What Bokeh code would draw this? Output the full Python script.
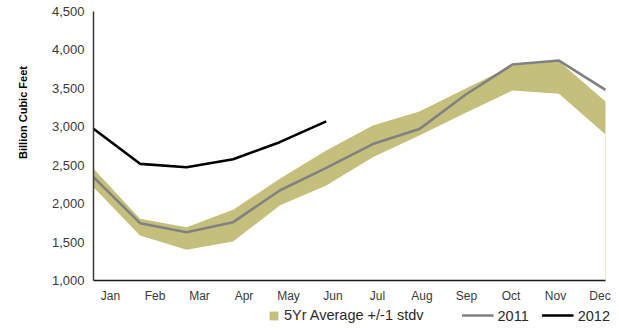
import math
from bokeh.plotting import figure
from bokeh.layouts import column, row
from bokeh.models import (Range1d, LinearAxis, FixedTicker, NumeralTickFormatter,
                          Legend, LegendItem, Label)
from bokeh.embed import file_html
from bokeh.resources import INLINE

months = ["Jan", "Feb", "Mar", "Apr", "May", "Jun", "Jul", "Aug", "Sep", "Oct", "Nov", "Dec"]
avg_low = [2214, 1585, 1399, 1507, 1976, 2236, 2604, 2886, 3182, 3472, 3429, 2899]
avg_high = [2453, 1803, 1694, 1920, 2323, 2691, 3017, 3199, 3498, 3797, 3853, 3329]
y2011 = [2344, 1746, 1629, 1759, 2171, 2466, 2775, 2970, 3420, 3810, 3862, 3481]
y2012 = [2974, 2518, 2474, 2578, 2800, 3070]
y_ticks = [1000, 1500, 2000, 2500, 3000, 3500, 4000, 4500]

idx = list(range(len(months)))
FONT = "Liberation Sans"
BAND = "#C4C07B"
C2011 = "#818184"
C2012 = "#000000"

TW = 30            # width of the strip holding the axis title
MAIN_H = 306
LEG_H = 18
LEFT = 93          # frame left edge on the page
FRAME_W = 517      # frame runs a little past Dec so the legend fits
DATA_W = 512       # Jan..Dec span in pixels
PX_PER_MONTH = DATA_W / (len(months) - 1)
LAB_PX = 44.5      # spacing of the month labels
LAB_OFF = 17       # first label sits this far right of Jan


def bare(fig):
    fig.outline_line_color = None
    fig.xgrid.visible = False
    fig.ygrid.visible = False


borders = dict(min_border_left=LEFT - TW, min_border_right=612 - LEFT - FRAME_W)

p = figure(width=612 - TW, height=MAIN_H, output_backend="svg", toolbar_location=None,
           x_range=Range1d(0, FRAME_W / PX_PER_MONTH), y_range=Range1d(1000, 4500),
           x_axis_location=None, y_axis_location="left",
           min_border_top=11, min_border_bottom=26, **borders)
bare(p)

ya = p.yaxis[0]
ya.ticker = FixedTicker(ticks=y_ticks)
ya.formatter = NumeralTickFormatter(format="0,0")
ya.major_tick_line_color = None
ya.major_tick_out = 0
ya.minor_tick_line_color = None
ya.axis_line_color = "#3a3a3a"
ya.axis_line_width = 1.5
ya.major_label_text_font = FONT
ya.major_label_text_font_size = "13px"
ya.major_label_text_color = "#3a3a3a"
ya.major_label_standoff = 9

# month axis on its own range so labels sit like the original
lab0 = -LAB_OFF / LAB_PX
p.extra_x_ranges["lab"] = Range1d(lab0, lab0 + FRAME_W / LAB_PX)
xa = LinearAxis(x_range_name="lab", ticker=FixedTicker(ticks=idx),
                bounds=(lab0, lab0 + DATA_W / LAB_PX),
                major_label_overrides={i: m for i, m in enumerate(months)})
xa.major_tick_line_color = None
xa.major_tick_out = 0
xa.minor_tick_line_color = None
xa.axis_line_color = "#1a1a1a"
xa.axis_line_width = 1.5
xa.major_label_text_font = FONT
xa.major_label_text_font_size = "12px"
xa.major_label_text_color = "#3a3a3a"
xa.major_label_standoff = 8
p.add_layout(xa, "below")

p.varea(x=idx, y1=avg_low, y2=avg_high, fill_color=BAND, fill_alpha=1)
p.segment(x0=[idx[-1]], y0=[1000], x1=[idx[-1]], y1=[avg_low[-1]], line_color="#EEEBD3", line_width=1)
p.line(idx, y2011, line_color=C2011, line_width=2.6)
p.line(idx[:len(y2012)], y2012, line_color=C2012, line_width=2.6)

# legend strip below the chart (its own glyphs fall outside its tiny ranges)
lg = figure(width=612 - TW, height=LEG_H, output_backend="svg", toolbar_location=None,
            x_range=Range1d(100, 101), y_range=Range1d(0, 1),
            x_axis_location=None, y_axis_location=None,
            min_border_top=0, min_border_bottom=0, **borders)
bare(lg)
band_r = lg.varea(x=idx, y1=avg_low, y2=avg_high, fill_color=BAND, fill_alpha=1)
r11 = lg.line(idx, y2011, line_color=C2011, line_width=2.6)
r12 = lg.line(idx[:len(y2012)], y2012, line_color=C2012, line_width=2.6)

LBL_H = 17
common = dict(orientation="horizontal", padding=0, margin=0, border_line_color=None,
              background_fill_alpha=0, label_text_font=FONT, label_text_font_size="14.5px",
              label_text_color="#2a2a2a", label_height=LBL_H)
leg1 = Legend(items=[LegendItem(label="5Yr Average +/-1 stdv", renderers=[band_r])],
              location=(268 - LEFT, (LEG_H - LBL_H) / 2), glyph_width=11, glyph_height=11,
              label_standoff=5, **common)
leg2 = Legend(items=[LegendItem(label="2011", renderers=[r11]),
                     LegendItem(label="2012", renderers=[r12])],
              location="center_right", glyph_width=32, glyph_height=11, label_standoff=4,
              spacing=13, **common)
lg.add_layout(leg1, "center")
lg.add_layout(leg2, "center")

# strip on the left carrying the rotated axis title
tf = figure(width=TW, height=MAIN_H + LEG_H, output_backend="svg", toolbar_location=None,
            x_range=Range1d(0, 1), y_range=Range1d(0, 1),
            x_axis_location=None, y_axis_location=None,
            min_border_left=0, min_border_right=0, min_border_top=0, min_border_bottom=0)
bare(tf)
tf.add_layout(Label(x=22, y=MAIN_H + LEG_H - 112, x_units="screen", y_units="screen",
                    text="Billion Cubic Feet", angle=math.pi / 2,
                    text_align="center", text_baseline="middle",
                    text_font=FONT, text_font_size="11px", text_font_style="bold",
                    text_color="#000000"))

layout = row(tf, column(p, lg, spacing=0), spacing=0)
open("out.html", "w").write(file_html(layout, INLINE))
